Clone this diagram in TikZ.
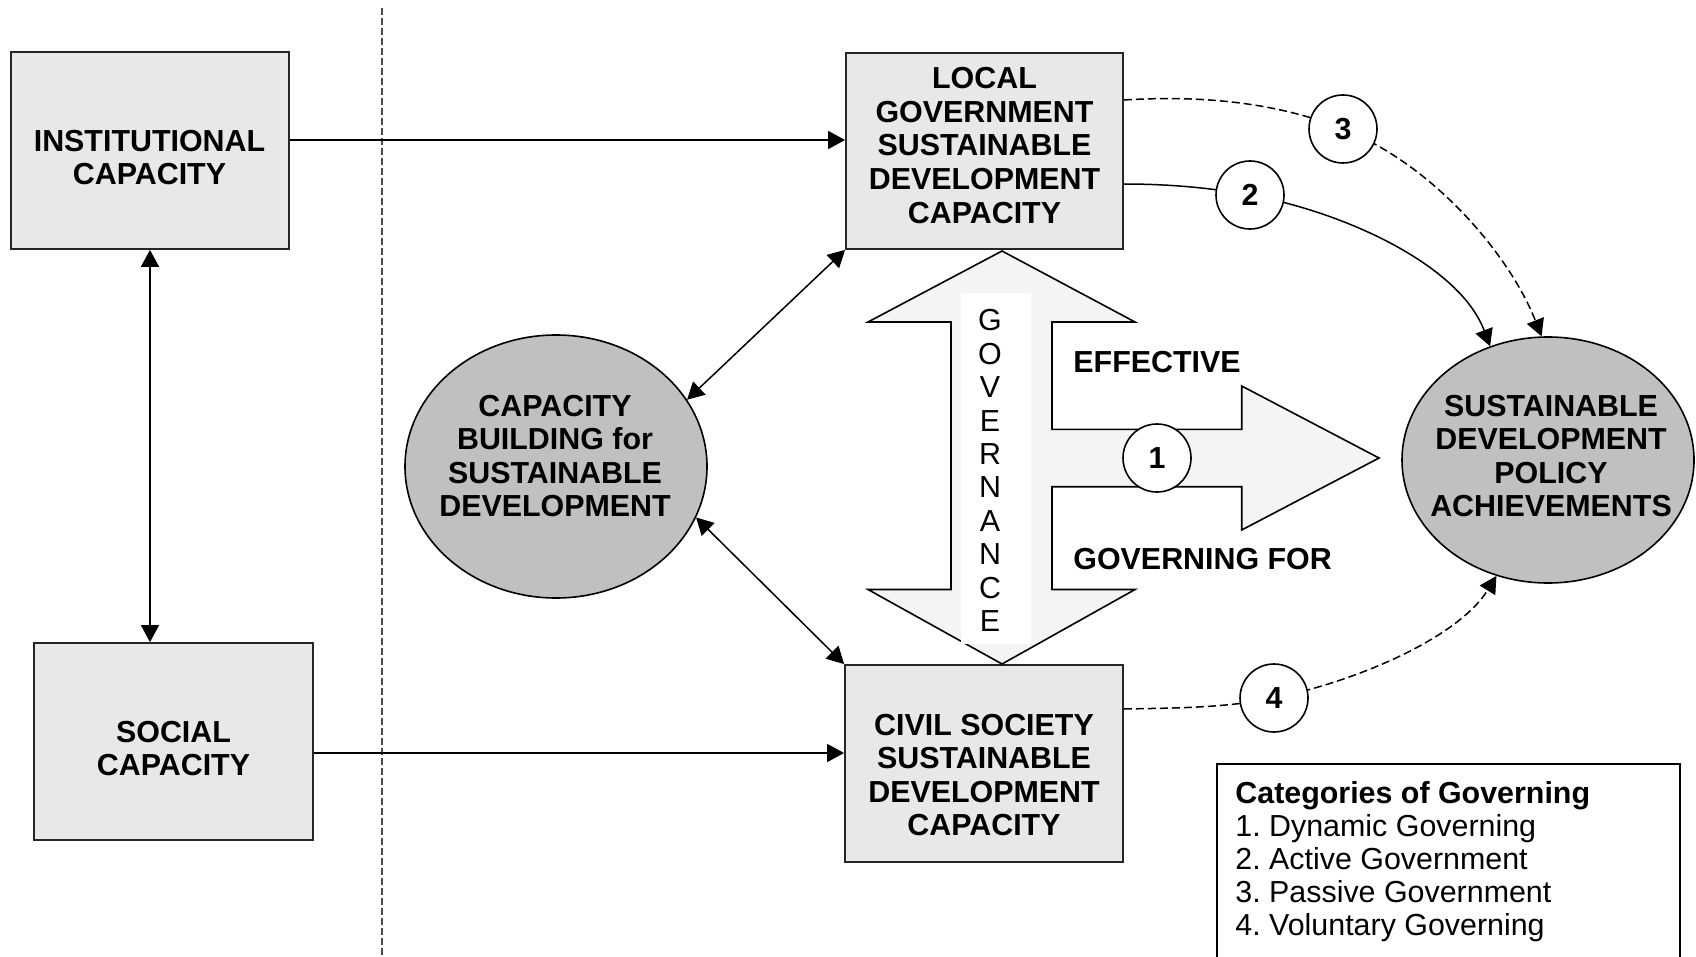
\documentclass[tikz,border=0pt]{standalone}
\usepackage{fontspec}
\setmainfont{Liberation Sans}
\usetikzlibrary{arrows.meta,calc,shapes.geometric}
\definecolor{boxgray}{HTML}{E8E8E8}
\definecolor{ellgray}{HTML}{C0C0C0}
\definecolor{govgray}{HTML}{F4F4F4}
\frenchspacing
\begin{document}
\begin{tikzpicture}[x=0.5pt,y=-0.5pt,
  lbl/.style={font=\fontsize{15.2}{16.8}\selectfont\bfseries, align=center, inner sep=0pt},
  reg/.style={font=\fontsize{15.2}{16.8}\selectfont, inner sep=0pt},
  box/.style={draw=black!85, line width=0.9pt, fill=boxgray, inner sep=0pt},
  ell/.style={ellipse, draw=black, line width=0.8pt, fill=ellgray, inner sep=0pt},
  num/.style={circle, draw=black, line width=0.8pt, fill=white, minimum size=34pt, inner sep=0pt, font=\fontsize{15.2}{16.8}\selectfont\bfseries},
  conn/.style={line width=0.75pt, -{Triangle[length=8.5pt,width=9pt]}},
  bidir/.style={line width=0.75pt, {Triangle[length=8.5pt,width=9pt]}-{Triangle[length=8.5pt,width=9pt]}},
  dsh/.style={dash pattern=on 4pt off 2pt},
]
\useasboundingbox (0,0) rectangle (1696,957);
\clip (0,0) rectangle (1696,957);

% divider
\coordinate (dtop) at (382,8);
\coordinate (dbot) at (382,957);
\draw[gray!60!black, line width=0.6pt, dash pattern=on 3.5pt off 1.5pt] (dtop) -- (dbot);

% boxes
\node[box, minimum width=139pt, minimum height=98.5pt] (inst) at (150,150.5) {};
\node[lbl] (instT) at (149.5,157.5) {INSTITUTIONAL\\CAPACITY};
\node[box, minimum width=139.5pt, minimum height=98.5pt] (social) at (173.5,741.5) {};
\node[lbl] (socialT) at (173.5,748.5) {SOCIAL\\CAPACITY};
\node[box, minimum width=138.5pt, minimum height=98pt] (local) at (984.5,151) {};
\node[lbl] (localT) at (984.5,145.5) {LOCAL\\GOVERNMENT\\SUSTAINABLE\\DEVELOPMENT\\CAPACITY};
\node[box, minimum width=139pt, minimum height=98.5pt] (civil) at (984,763.5) {};
\node[lbl] (civilT) at (984,775) {CIVIL SOCIETY\\SUSTAINABLE\\DEVELOPMENT\\CAPACITY};

% ellipses
\node[ell, minimum width=151pt, minimum height=131.5pt] (cap) at (556,466.5) {};
\node[lbl] (capT) at (555,456) {CAPACITY\\BUILDING for\\SUSTAINABLE\\DEVELOPMENT};
\node[ell, minimum width=146pt, minimum height=123pt] (sdpa) at (1548,460) {};
\node[lbl] (sdpaT) at (1551,456) {SUSTAINABLE\\DEVELOPMENT\\POLICY\\ACHIEVEMENTS};

% governance arrow shape
\path[draw=black, line width=0.8pt, fill=govgray]
  (1002,251) -- (1135,322) -- (1052,322) -- (1052,429.4) -- (1241.7,429.4)
  -- (1241.7,386) -- (1379,458) -- (1241.7,530) -- (1241.7,486.7)
  -- (1052,486.7) -- (1052,589.5) -- (1135,589.5) -- (1002,664)
  -- (868,589.5) -- (951,589.5) -- (951,322) -- (868,322) -- cycle;
\fill[white] (961,293) rectangle (1031,643.6);
\foreach \l [count=\i from 0] in {G,O,V,E,R,N,A,N,C,E}
  \node[reg, text height=10.9pt, text depth=0pt] (gov\i) at (990,320+33.4*\i) {\l};
\node[lbl, anchor=west, text height=10.9pt, text depth=0pt] (eff) at (1073,362) {EFFECTIVE};
\node[lbl, anchor=west, text height=10.9pt, text depth=0pt] (gfor) at (1073,559) {GOVERNING FOR};

% straight connectors
\draw[bidir] (inst.south) -- (inst.south |- social.north);
\coordinate (i1) at ($(inst.east)+(0,-10.5)$);
\draw[conn] (i1) -- (i1 -| local.west);
\coordinate (s1) at ($(social.east)+(0,11.5)$);
\draw[conn] (s1) -- (s1 -| civil.west);
\draw[bidir] (local.south west) -- (cap.27);
\draw[bidir] (civil.north west) -- (cap.-20);

% curved connectors through numbered circles
\coordinate (k2) at (1250,195);
\coordinate (k3) at (1343,129);
\coordinate (k4) at (1274,698);
\draw[conn] ($(local.east)+(0,33)$) .. controls +(40,0) and +(-44,-8) .. (k2)
  .. controls +(98,18) and +(-30,-80) .. (sdpa.117);
\draw[conn, dsh] ($(local.east)+(0,-51)$) .. controls +(80,-5) and +(-65,-26) .. (k3)
  .. controls +(93,37) and +(-31,-79) .. (sdpa.93);
\draw[conn, dsh] ($(civil.east)+(0,-54.5)$) .. controls +(52,-1) and +(-49,10) .. (k4)
  .. controls +(88,-18) and +(-37,60) .. (sdpa.-114);

\node[num] (c1) at (1157,458) {1};
\node[num] (c2) at (k2) {2};
\node[num] (c3) at (k3) {3};
\node[num] (c4) at (k4) {4};

% legend
\node[draw=black, line width=0.8pt, anchor=north west, minimum width=231.5pt, minimum height=110pt, inner sep=0pt] (legend) at (1216,763) {};
\node[lbl, anchor=base west] (lg0) at (1235,803) {Categories of Governing};
\node[reg, anchor=base west] (lg1) at (1235,836) {1. Dynamic Governing};
\node[reg, anchor=base west] (lg2) at (1235,869) {2. Active Government};
\node[reg, anchor=base west] (lg3) at (1235,902) {3. Passive Government};
\node[reg, anchor=base west] (lg4) at (1235,935) {4. Voluntary Governing};
\end{tikzpicture}
\end{document}
